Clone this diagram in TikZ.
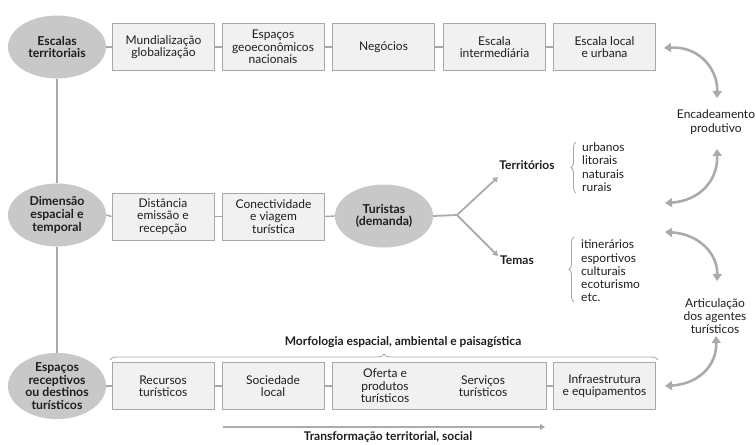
\documentclass[tikz,border=0pt]{standalone}
\usepackage{fontspec}
\setmainfont{Lato}
\usetikzlibrary{shapes.geometric,decorations.pathreplacing,arrows.meta,calc}
\definecolor{ellgray}{HTML}{C8C8C8}
\definecolor{boxfill}{HTML}{F1F1F1}
\definecolor{boxline}{HTML}{A8A8A8}
\definecolor{linkgray}{HTML}{A8A8A8}
\definecolor{arrgray}{HTML}{ABABAB}
\definecolor{txt}{HTML}{1E1E1E}
\begin{document}
\begin{tikzpicture}[x=1pt,y=-1pt,
  every node/.style={text=txt},
  ell/.style={ellipse, fill=ellgray, minimum width=98pt, minimum height=63pt, inner sep=0pt, align=center, font=\bfseries\fontsize{12.3}{12.6}\selectfont},
  box/.style={rectangle, draw=boxline, fill=boxfill, line width=0.8pt, minimum width=102pt, minimum height=47pt, inner sep=1pt, align=center, font=\fontsize{12}{12.5}\selectfont},
  plain/.style={align=center, inner sep=0pt, font=\fontsize{12}{13.3}\selectfont},
  listtxt/.style={align=left, inner sep=0pt, anchor=west, font=\fontsize{12}{13.3}\selectfont},
  boldtxt/.style={inner sep=0pt, font=\bfseries\fontsize{12}{13}\selectfont},
  link/.style={draw=linkgray, line width=1.4pt},
  carrow/.style={draw=arrgray, line width=2.6pt, {Triangle[width=9pt,length=7pt]}-{Triangle[width=9pt,length=7pt]}},
  farrow/.style={draw=arrgray, line width=1.8pt, -{Triangle[width=6pt,length=5pt]}},
  bracepath/.style={draw=boxline, line width=0.9pt, decorate, decoration={brace, amplitude=6pt}}
]
\useasboundingbox (0,0) rectangle (756,445);

% row 1
\node[ell] (e1) at (57,47) {Escalas\\territoriais};
\node[box] (b11) at (163.5,47) {Mundialização\\globalização};
\node[box] (b12) at (273,47) {Espaços\\geoeconômicos\\nacionais};
\node[box] (b13) at (383.5,47) {Negócios};
\node[box] (b14) at (494.5,47) {Escala\\intermediária};
\node[box] (b15) at (604.5,47) {Escala local\\e urbana};

% row 2
\node[ell] (e2) at (57,215) {Dimensão\\espacial e\\temporal};
\node[box] (b21) at (163,216.5) {Distância\\emissão e\\recepção};
\node[box] (b22) at (273.5,216.5) {Conectividade\\e viagem\\turística};
\node[ell] (tur) at (384,216) {Turistas\\(demanda)};
\coordinate (fork) at (457,215);
\coordinate (terA) at (498,177);
\coordinate (temA) at (498,256);
\node[boldtxt] (ter) at (527,165) {Territórios};
\node[boldtxt] (tem) at (517,260) {Temas};
\node[listtxt] (terl) at (582,167) {urbanos\\litorais\\naturais\\rurais};
\node[listtxt] (teml) at (581,271) {itinerários\\esportivos\\culturais\\ecoturismo\\etc.};

% row 3
\node[ell] (e3) at (57,386) {Espaços\\receptivos\\ou destinos\\turísticos};
\node[box] (b31) at (163,386) {Recursos\\turísticos};
\node[box] (b32) at (273,386) {Sociedade\\local};
\node[box, minimum width=214pt] (b33) at (439,386) {};
\node[plain, font=\fontsize{12}{12.5}\selectfont] (of) at (385,386) {Oferta e\\produtos\\turísticos};
\node[plain, font=\fontsize{12}{12.5}\selectfont] (sv) at (483,386) {Serviços\\turísticos};
\node[box] (b34) at (604.5,386) {Infraestrutura\\e equipamentos};

% right column
\node[plain] (enc) at (716,122) {Encadeamento\\produtivo};
\node[plain] (art) at (715,316) {Articulação\\dos agentes\\turísticos};

% links
\draw[link] (e1.east) -- (b11.west);
\draw[link] (b11) -- (b12);
\draw[link] (b12) -- (b13);
\draw[link] (b13) -- (b14);
\draw[link] (b14) -- (b15);
\draw[link] (e2.east) -- (b21.west);
\draw[link] (b21) -- (b22);
\draw[link] (b22.east) -- (tur.west);
\draw[link] (e3.east) -- (b31.west);
\draw[link] (b31) -- (b32);
\draw[link] (b32) -- (b33);
\draw[link] (b33) -- (b34);
\draw[link] (e1.south) -- (e2.north);
\draw[link] (e2.south) -- (e3.north);

% fork
\draw[link, line width=1.8pt, draw=arrgray] (tur.east) -- (fork);
\draw[farrow] (fork) -- (terA);
\draw[farrow] (fork) -- (temA);

% braces
\coordinate (tb1) at (576,193); \coordinate (tb2) at (576,142);
\draw[bracepath, decoration={amplitude=5pt}] (tb1) -- (tb2);
\coordinate (mb1) at (574,302); \coordinate (mb2) at (574,237);
\draw[bracepath, decoration={amplitude=5pt}] (mb1) -- (mb2);
\coordinate (hb1) at (110,360); \coordinate (hb2) at (658,360);
\draw[bracepath] (hb1) -- (hb2);
\node[boldtxt] (morf) at (403,342) {Morfologia espacial, ambiental e paisagística};

% transformation arrow
\coordinate (tr1) at (223,427); \coordinate (tr2) at (545,427);
\draw[draw=arrgray, line width=1.6pt, -{Triangle[width=6pt,length=5pt]}] (tr1) -- (tr2);
\node[boldtxt] (trans) at (388,437) {Transformação territorial, social};

% curved arrows
\coordinate (c1a) at (664,48); \coordinate (c1b) at (717,98);
\draw[carrow] (c1a) .. controls (700,46) and (718,70) .. (c1b);
\coordinate (c2a) at (717,149); \coordinate (c2b) at (665,203);
\draw[carrow] (c2a) .. controls (718,182) and (698,201) .. (c2b);
\coordinate (c3a) at (665,232); \coordinate (c3b) at (717,281);
\draw[carrow] (c3a) .. controls (700,234) and (718,255) .. (c3b);
\coordinate (c4a) at (716,336); \coordinate (c4b) at (665,386);
\draw[carrow] (c4a) .. controls (717,366) and (698,384) .. (c4b);
\end{tikzpicture}
\end{document}
